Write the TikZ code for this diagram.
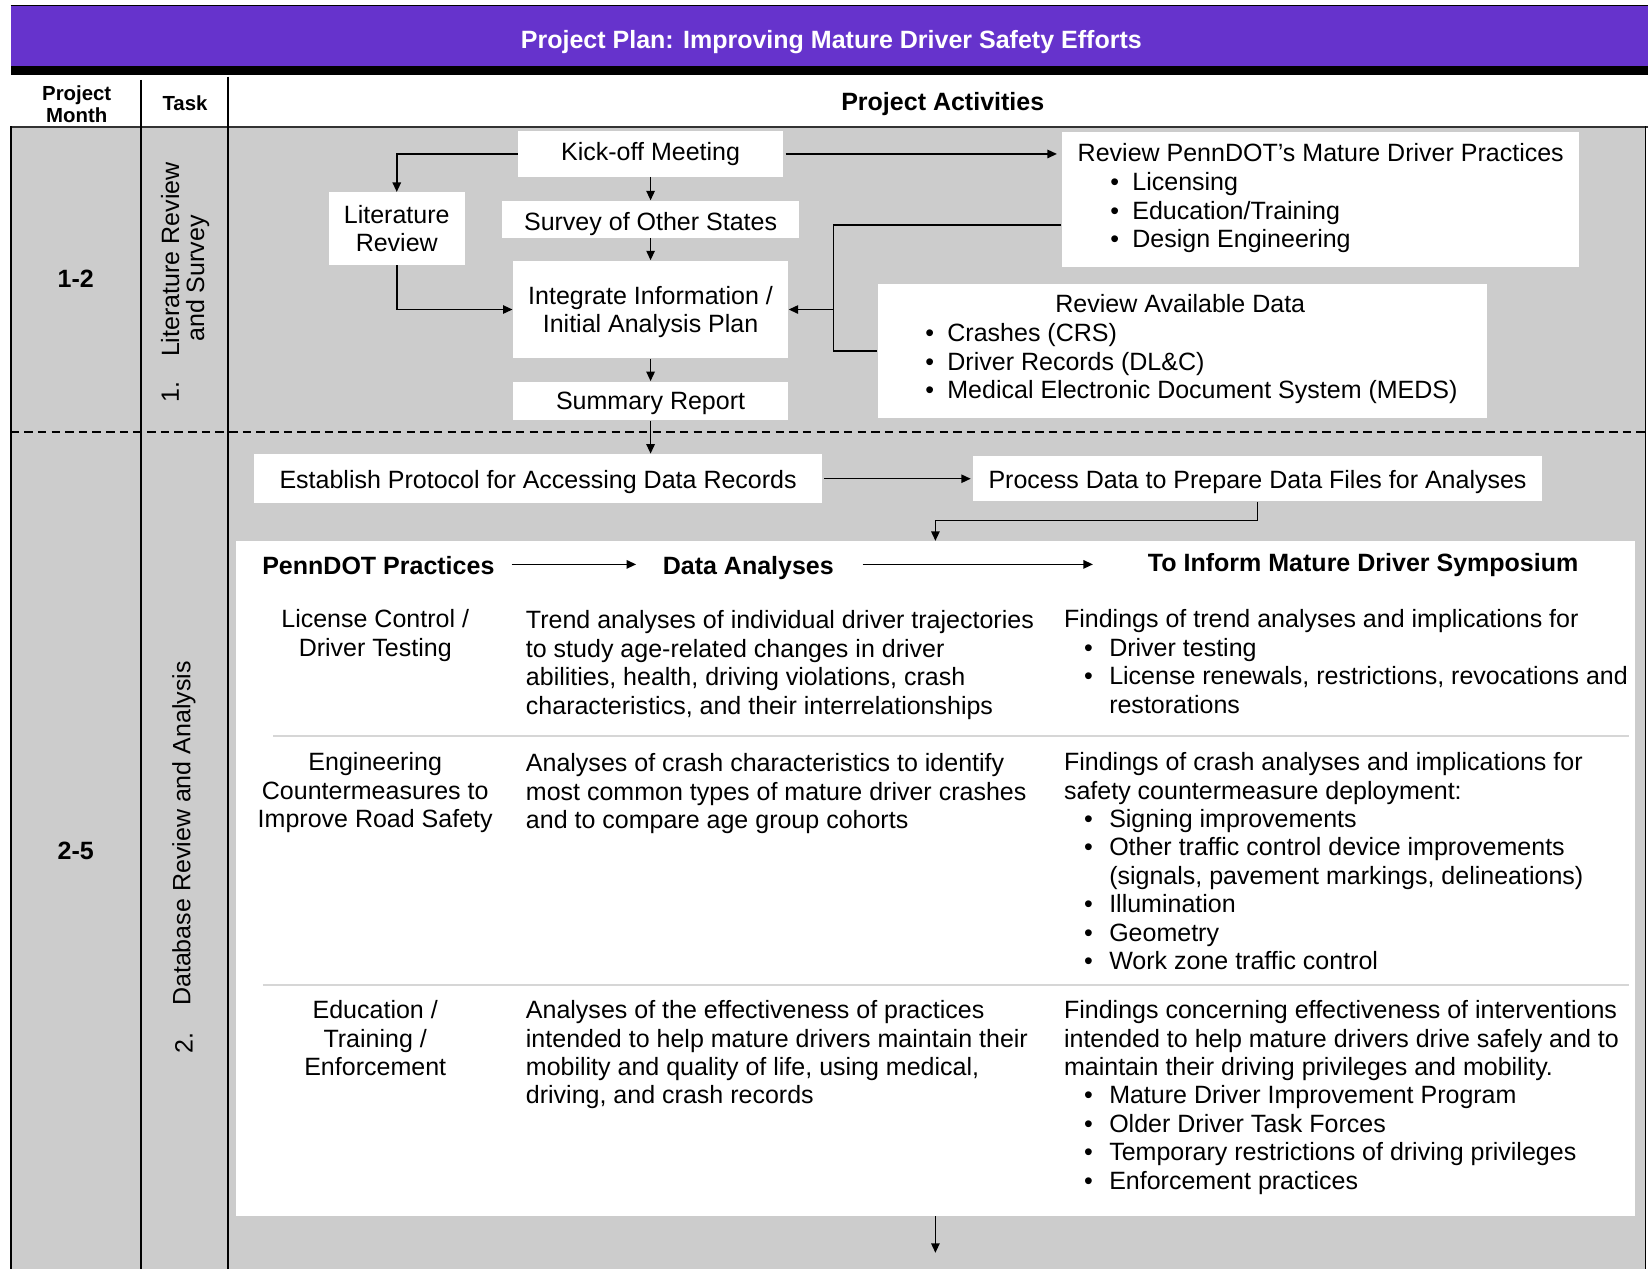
\documentclass[tikz,border=0pt]{standalone}
\usepackage{fontspec}
\setmainfont{Liberation Sans}
\usetikzlibrary{arrows.meta,calc}
\definecolor{hdrpurple}{RGB}{102,51,204}
\definecolor{bggray}{RGB}{204,204,204}
\definecolor{sepgray}{RGB}{214,214,214}
\newcommand{\bul}{\makebox[10.5pt][l]{\textbullet}}
\newcommand{\bulw}{\makebox[12pt][l]{\textbullet}}
\newcommand{\fst}{\rule{0pt}{9.5pt}}
\begin{document}
\fontsize{11.9}{13.5}\selectfont
\begin{tikzpicture}[x=0.5pt,y=-0.5pt,
  box/.style={fill=white, inner sep=0pt, align=center},
  txt/.style={inner sep=0pt, align=left},
  vc/.style={text height=9pt, text depth=2.6pt},
  arr/.style={-{Triangle[length=4.5pt,width=4pt]}, line width=0.7pt},
  ln/.style={line width=0.7pt},
  hdr/.style={inner sep=0pt, align=center, font=\fontsize{9.7}{10.5}\selectfont\bfseries}]
\useasboundingbox (0,0) rectangle (1568,1207.4);
% backgrounds
\fill[bggray] (10,120) rectangle (1566,1207.4);
\fill[hdrpurple] (10,5) rectangle (1568,64);
\draw[line width=0.6pt] (10,5.5) -- (1568,5.5);
\fill[black] (10,63) rectangle (1568,71);
\draw[line width=1pt, black!80] (10,120.5) -- (1568,120.5);
\draw[ln] (134,76) -- (134,1207.4);
\draw[ln] (217,73) -- (217,1207.4);
\draw[ln] (10.5,120) -- (10.5,1207.4);
\draw[ln] (1565.5,120) -- (1565.5,1207.4);
\draw[line width=0.6pt, dash pattern=on 4pt off 2.5pt] (10,411) -- (1568,411);
% header texts
\node[inner sep=0pt, text=white, font=\bfseries] (title) at (791,40) {Project Plan: Improving Mature Driver Safety Efforts};
\node[hdr] (hmonth) at (73,99.5) {Project\\Month};
\node[hdr] (htask) at (176,98.5) {Task};
\node[inner sep=0pt, font=\bfseries] (hact) at (897,99) {Project Activities};
% month labels
\node[inner sep=0pt, font=\bfseries] (m1) at (72,265) {1-2};
\node[inner sep=0pt, font=\bfseries] (m2) at (72,810) {2-5};
% task labels
\node[inner sep=0pt, rotate=90] (t1n) at (162,373) {1.};
\node[inner sep=0pt, rotate=90] (t1a) at (162,247) {Literature Review};
\node[inner sep=0pt, rotate=90] (t1b) at (188,265) {and Survey};
\node[inner sep=0pt, rotate=90] (t2n) at (175,992) {2.};
\node[inner sep=0pt, rotate=90] (t2a) at (175,793) {Database Review and Analysis};
% section 1 boxes
\node[box, minimum width=126pt, minimum height=21.5pt] (kick) at (619,146.5) {Kick-off Meeting};
\node[box, minimum width=64.5pt, minimum height=34.5pt] (lit) at (377.5,217.5) {Literature\\Review};
\node[box, minimum width=141pt, minimum height=17.5pt, text height=12.5pt, text depth=1.8pt] (survey) at (619,208.5) {Survey of Other States};
\node[box, minimum width=131pt, minimum height=46.5pt, text height=24.7pt, text depth=2.5pt] (integ) at (619,294.5) {Integrate Information /\\Initial Analysis Plan};
\node[box, minimum width=131pt, minimum height=18.5pt, text height=11pt, text depth=2.5pt] (summ) at (619,381.5) {Summary Report};
\node[box, minimum width=246pt, minimum height=64pt] (pdot) at (1256,190) {};
\node[txt, anchor=west] (pdott) at (1025,145) {Review PennDOT’s Mature Driver Practices};
\node[txt, anchor=north west] (pdotl) at (1056,162) {\fst\bul Licensing\\\bul Education/Training\\\bul Design Engineering};
\node[box, minimum width=290pt, minimum height=64pt] (data) at (1125,334) {};
\node[txt] (datat) at (1123,289) {Review Available Data};
\node[txt, anchor=north west] (datal) at (880,306) {\fst\bul Crashes (CRS)\\\bul Driver Records (DL\&C)\\\bul Medical Electronic Document System (MEDS)};
% section 1 connectors
\draw[arr] (kick.west) -| (lit.north);
\draw[arr, shorten <=1pt, shorten >=2pt] (kick.east) -- (kick.east -| pdot.west);
\draw[arr] (kick.south) -- (survey.north);
\draw[arr] (survey.south) -- (integ.north);
\draw[arr] (lit.south) |- (integ.west);
\coordinate (bt) at (793,214);
\coordinate (bb) at (793,334);
\draw[ln] (bt -| pdot.west) -- (bt) -- (bb) -- (bb -| data.west);
\draw[arr] (bt |- integ.east) -- (integ.east);
\draw[arr] (integ.south) -- (summ.north);
% section 2
\node[box, minimum width=270pt, minimum height=23.5pt, text height=11.7pt, text depth=2.5pt] (estab) at (512,455.5) {Establish Protocol for Accessing Data Records};
\node[box, minimum width=270.5pt, minimum height=21.5pt, text height=11.7pt, text depth=2.5pt] (proc) at (1196.5,455.5) {Process Data to Prepare Data Files for Analyses};
\draw[arr] (summ.south) -- (summ.south |- estab.north);
\draw[arr, shorten <=1pt, shorten >=1pt] (estab.east) -- (proc.west);
\node[fill=white, minimum width=665.5pt, minimum height=321pt, inner sep=0pt] (panel) at (890.5,836) {};
\coordinate (pj) at (890,495);
\draw[arr] (proc.south) |- (pj) -- (pj |- panel.north);
\coordinate (bend) at (890,1192);
\draw[arr] (panel.south -| bend) -- (bend);
% panel header
\node[inner sep=0pt, vc, font=\bfseries] (hp) at (360,540) {PennDOT Practices};
\node[inner sep=0pt, vc, font=\bfseries] (hd) at (712,540) {Data Analyses};
\node[inner sep=0pt, vc, font=\bfseries] (hi) at (1297,537) {To Inform Mature Driver Symposium};
\draw[arr, shorten <=8pt, shorten >=12.5pt] ([yshift=1.5pt]hp.east) -- ([yshift=1.5pt]hd.west);
\draw[arr, shorten <=13.5pt, shorten >=26pt] ([yshift=1.5pt]hd.east) -- ([yshift=1.5pt]hd.east -| hi.west);
% separators
\draw[sepgray, line width=1pt] (260,700) -- (1550,700);
\draw[sepgray, line width=1pt] (250,937) -- (1550,937);
% row 1
\node[txt, align=center, anchor=north] (r1a) at (357,578) {\fst License Control /\\Driver Testing};
\node[txt, anchor=north west] (r1b) at (500,579) {\fst Trend analyses of individual driver trajectories\\to study age-related changes in driver\\abilities, health, driving violations, crash\\characteristics, and their interrelationships};
\node[txt, anchor=north west] (r1c) at (1012,578) {\fst Findings of trend analyses and implications for\\\hspace*{9.5pt}\bulw Driver testing\\\hspace*{9.5pt}\bulw License renewals, restrictions, revocations and\\\hspace*{21.5pt}restorations};
% row 2
\node[txt, align=center, anchor=north] (r2a) at (357,714) {\fst Engineering\\Countermeasures to\\Improve Road Safety};
\node[txt, anchor=north west] (r2b) at (500,715) {\fst Analyses of crash characteristics to identify\\most common types of mature driver crashes\\and to compare age group cohorts};
\node[txt, anchor=north west] (r2c) at (1012,714) {\fst Findings of crash analyses and implications for\\safety countermeasure deployment:\\\hspace*{9.5pt}\bulw Signing improvements\\\hspace*{9.5pt}\bulw Other traffic control device improvements\\\hspace*{21.5pt}(signals, pavement markings, delineations)\\\hspace*{9.5pt}\bulw Illumination\\\hspace*{9.5pt}\bulw Geometry\\\hspace*{9.5pt}\bulw Work zone traffic control};
% row 3
\node[txt, align=center, anchor=north] (r3a) at (357,950) {\fst Education /\\Training /\\Enforcement};
\node[txt, anchor=north west] (r3b) at (500,950) {\fst Analyses of the effectiveness of practices\\intended to help mature drivers maintain their\\mobility and quality of life, using medical,\\driving, and crash records};
\node[txt, anchor=north west] (r3c) at (1012,950) {\fst Findings concerning effectiveness of interventions\\intended to help mature drivers drive safely and to\\maintain their driving privileges and mobility.\\\hspace*{9.5pt}\bulw Mature Driver Improvement Program\\\hspace*{9.5pt}\bulw Older Driver Task Forces\\\hspace*{9.5pt}\bulw Temporary restrictions of driving privileges\\\hspace*{9.5pt}\bulw Enforcement practices};
\end{tikzpicture}
\end{document}
